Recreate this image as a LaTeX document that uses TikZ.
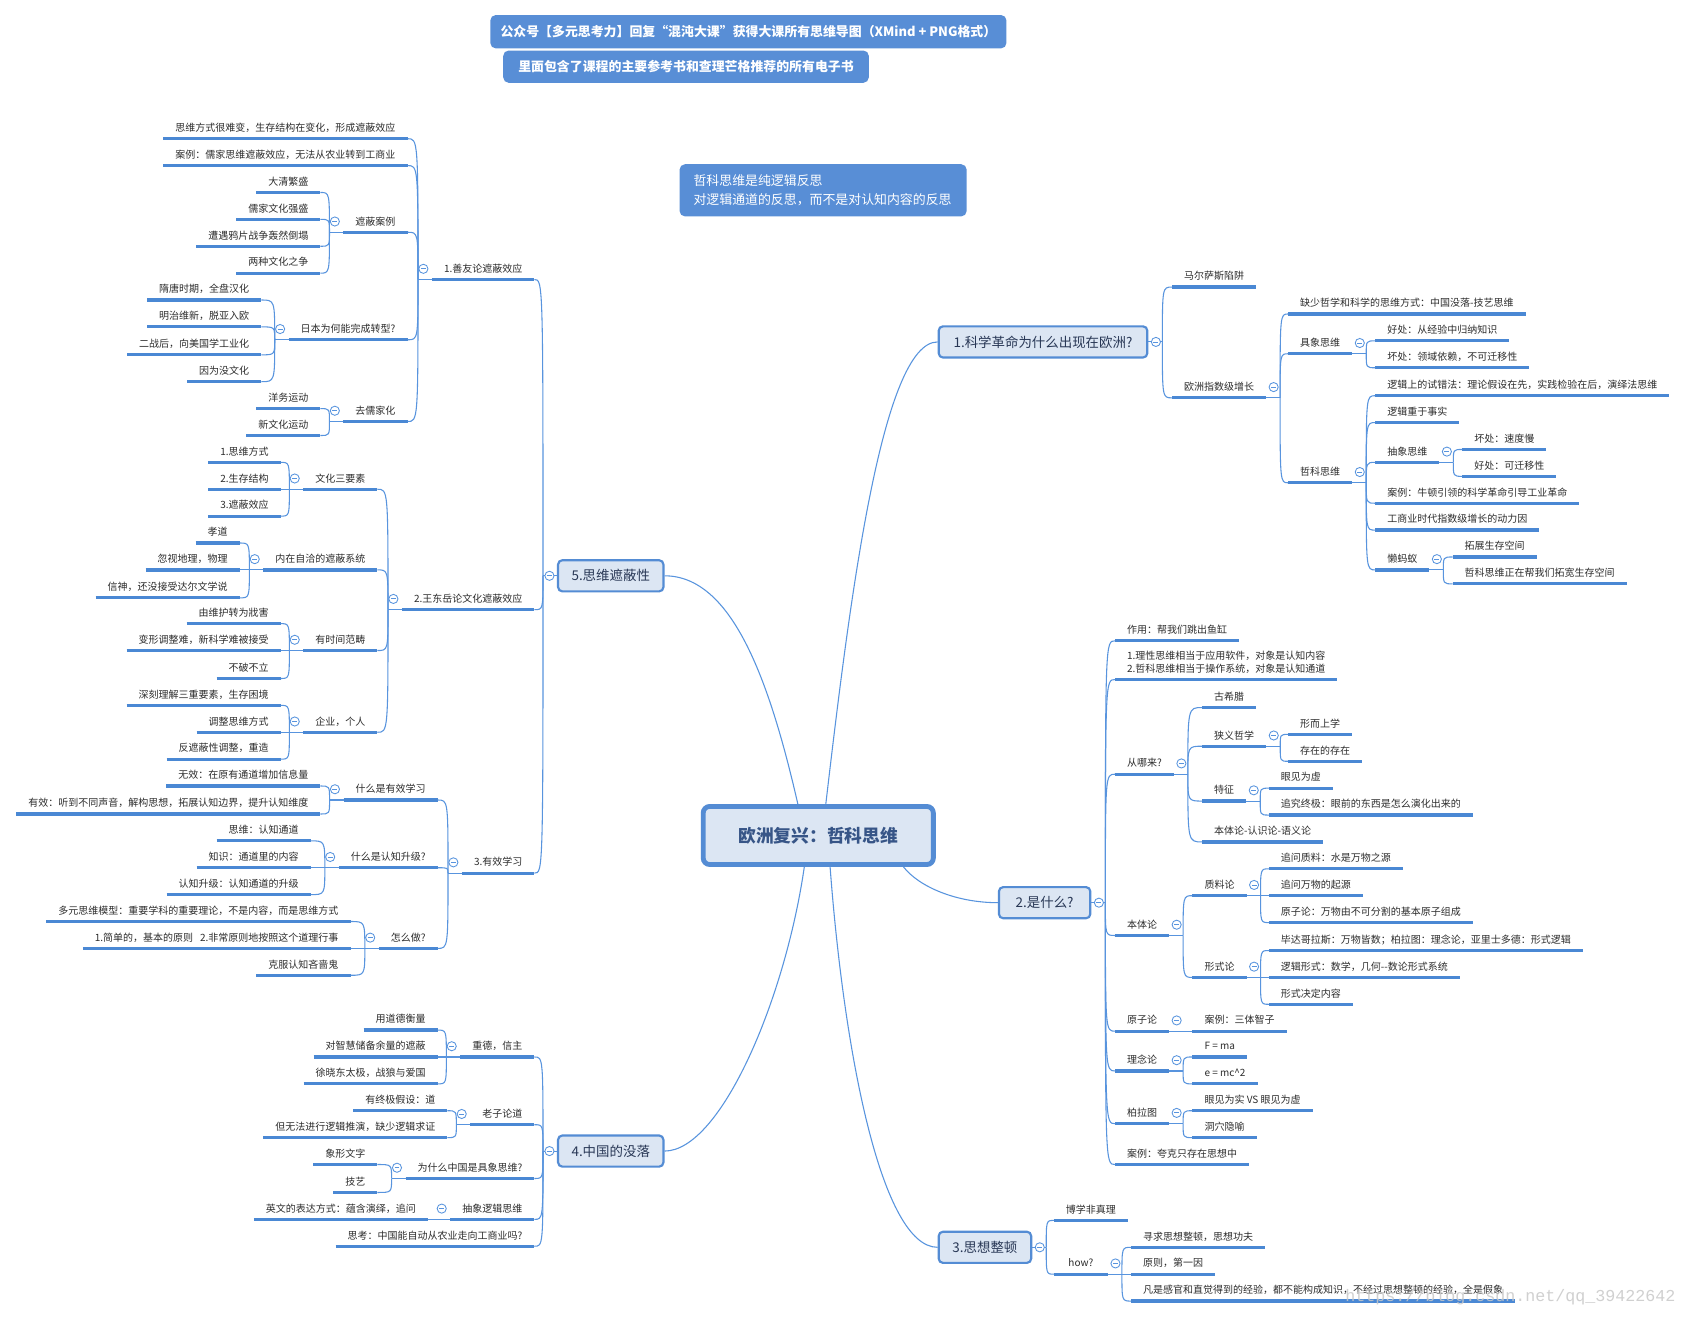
\documentclass[tikz,border=0pt]{standalone}
\usepackage{fontspec}
\setmainfont{Noto Sans CJK SC}
\newfontfamily\wmfont{Liberation Mono}
\usetikzlibrary{calc}
\definecolor{ulc}{RGB}{74,136,212}
\definecolor{cnc}{RGB}{88,148,222}
\definecolor{boxf}{RGB}{220,230,243}
\definecolor{boxc}{RGB}{84,140,212}
\definecolor{bannc}{RGB}{88,142,214}
\definecolor{lblc}{RGB}{45,45,45}
\definecolor{topc}{RGB}{40,55,85}
\definecolor{cenc}{RGB}{55,85,135}
\definecolor{wmc}{RGB}{200,200,200}
\tikzset{
 lbl/.style={font=\fontsize{9.3}{12}\selectfont, text=lblc, inner xsep=11pt, inner ysep=4.5pt, text height=8pt, text depth=2pt},
 uline/.style={draw=ulc, line width=3pt},
 conn/.style={draw=cnc, line width=1pt},
 coll/.style={circle, draw=cnc, fill=white, line width=0.8pt, minimum size=8.5pt, inner sep=0pt,
   path picture={\draw[cnc, line width=0.8pt] ([xshift=-2.3pt]path picture bounding box.center) -- ([xshift=2.3pt]path picture bounding box.center);}},
 topic/.style={draw=boxc, fill=boxf, line width=2pt, rounded corners=4pt, minimum height=29pt, font=\fontsize{12.5}{14}\selectfont, text=topc, inner sep=0pt},
 central/.style={draw=boxc, fill=boxf, line width=4.5pt, rounded corners=6pt, minimum width=214pt, minimum height=54pt, font=\bfseries\fontsize{16.5}{18}\selectfont, text=cenc, inner sep=0pt},
 banner/.style={fill=bannc, rounded corners=5pt, text=white, font=\bfseries\fontsize{12}{14}\selectfont, inner sep=0pt},
}
\newcommand\mmL[5][]{\node[lbl,anchor=south east,#1] (#2) at (#3,#4) {#5};\draw[uline] (#2.south west) -- (#2.south east);}
\newcommand\mmR[5][]{\node[lbl,anchor=south west,#1] (#2) at (#3,#4) {#5};\draw[uline] (#2.south west) -- (#2.south east);}
\newcommand\mmLP[1]{\coordinate (#1j) at ([xshift=-13pt]#1.south west);\draw[conn] (#1.south west) -- (#1j);\node[coll] (#1o) at ([xshift=-8pt,yshift=10pt]#1.south west) {};}
\newcommand\mmRP[1]{\coordinate (#1j) at ([xshift=13pt]#1.south east);\draw[conn] (#1.south east) -- (#1j);\node[coll] (#1o) at ([xshift=7pt,yshift=10pt]#1.south east) {};}
\newcommand\mmLK[2]{\draw[conn] (#1j) .. controls (#1j |- #2.south east) .. (#2.south east);}
\newcommand\mmRK[2]{\draw[conn] (#1j) .. controls (#1j |- #2.south west) .. (#2.south west);}
\begin{document}
\begin{tikzpicture}[x=1pt,y=-1pt]
\fill[white] (0,0) rectangle (1568,1225.75);
\useasboundingbox (0,0) rectangle (1568,1225.75);

% banners
\node[banner, minimum width=480pt, minimum height=31pt] (N1) at (696,29.5) {公众号【多元思考力】回复“混沌大课”获得大课所有思维导图（XMind + PNG格式）};
\node[banner, minimum width=340pt, minimum height=30pt] (N2) at (638,62) {里面包含了课程的主要参考书和查理芒格推荐的所有电子书};
\node[banner, font=\fontsize{12}{17.5}\selectfont, align=left, text width=241pt, minimum width=267pt, minimum height=48.5pt] (N3) at (765.5,177) {哲科思维是纯逻辑反思\\对逻辑通道的反思，而不是对认知内容的反思};

% central and main topics
\node[central] (M) at (761,777) {欧洲复兴：哲科思维};
\node[topic, minimum width=98pt] (T5) at (568,535.5) {5.思维遮蔽性};
\node[topic, minimum width=98pt] (T4) at (568,1070.5) {4.中国的没落};
\node[topic, minimum width=194pt] (T1) at (970,318) {1.科学革命为什么出现在欧洲?};
\node[topic, minimum width=85pt] (T2) at (971.5,839.5) {2.是什么?};
\node[topic, minimum width=86pt] (T3) at (916,1160) {3.思想整顿};

\coordinate (s5) at ([xshift=-19pt]M.north);
\coordinate (s1) at ([xshift=7pt]M.north);
\coordinate (s4) at ([xshift=-13pt]M.south);
\coordinate (s3) at ([xshift=11pt]M.south);
\coordinate (s2) at ([xshift=-30pt]M.south east);
\draw[conn] (s5) .. controls ($(s5)+(-27,-118)$) and ($(T5.east)+(62,0)$) .. (T5.east);
\draw[conn] (s1) .. controls ($(s1)+(22,-188)$) and ($(T1.west)+(-52,0)$) .. (T1.west);
\draw[conn] (s4) .. controls ($(s4)+(-18,124)$) and ($(T4.east)+(52,0)$) .. (T4.east);
\draw[conn] (s3) .. controls ($(s3)+(13,174)$) and ($(T3.west)+(-52,0)$) .. (T3.west);
\draw[conn] (s2) .. controls ($(s2)+(15,19)$) and ($(T2.west)+(-38,0)$) .. (T2.west);

\coordinate (T5j) at ([xshift=-13pt]T5.west);
\coordinate (T4j) at ([xshift=-13pt]T4.west);
\coordinate (T1j) at ([xshift=13pt]T1.east);
\coordinate (T2j) at ([xshift=13pt]T2.east);
\coordinate (T3j) at ([xshift=13pt]T3.east);
\draw[conn] (T5.west) -- (T5j);
\draw[conn] (T4.west) -- (T4j);
\draw[conn] (T1.east) -- (T1j);
\draw[conn] (T2.east) -- (T2j);
\draw[conn] (T3.east) -- (T3j);

% ===== branch 5 =====
\mmL{A}{497}{260}{1.善友论遮蔽效应}\mmLP{A}
\mmL{B}{497}{567}{2.王东岳论文化遮蔽效应}\mmLP{B}
\mmL{C}{497}{812}{3.有效学习}\mmLP{C}
\mmLK{T5}{A}\mmLK{T5}{B}\mmLK{T5}{C}

\mmL{Aa}{379}{129}{思维方式很难变，生存结构在变化，形成遮蔽效应}
\mmL{Ab}{379}{154}{案例：儒家思维遮蔽效应，无法从农业转到工商业}
\mmL{Ac}{379}{216}{遮蔽案例}\mmLP{Ac}
\mmL{Ad}{379}{316}{日本为何能完成转型?}\mmLP{Ad}
\mmL{Ae}{379}{392}{去儒家化}\mmLP{Ae}
\mmLK{A}{Aa}\mmLK{A}{Ab}\mmLK{A}{Ac}\mmLK{A}{Ad}\mmLK{A}{Ae}
\mmL{Aca}{298}{179}{大清繁盛}
\mmL{Acb}{298}{204}{儒家文化强盛}
\mmL{Acc}{298}{229}{遭遇鸦片战争轰然倒塌}
\mmL{Acd}{298}{254}{两种文化之争}
\mmLK{Ac}{Aca}\mmLK{Ac}{Acb}\mmLK{Ac}{Acc}\mmLK{Ac}{Acd}
\mmL{Ada}{243}{279}{隋唐时期，全盘汉化}
\mmL{Adb}{243}{304}{明治维新，脱亚入欧}
\mmL{Adc}{243}{330}{二战后，向美国学工业化}
\mmL{Add}{243}{355}{因为没文化}
\mmLK{Ad}{Ada}\mmLK{Ad}{Adb}\mmLK{Ad}{Adc}\mmLK{Ad}{Add}
\mmL{Aea}{298}{380}{洋务运动}
\mmL{Aeb}{298}{405}{新文化运动}
\mmLK{Ae}{Aea}\mmLK{Ae}{Aeb}

\mmL{Ba}{351}{455}{文化三要素}\mmLP{Ba}
\mmL{Bb}{351}{530}{内在自洽的遮蔽系统}\mmLP{Bb}
\mmL{Bc}{351}{605}{有时间范畴}\mmLP{Bc}
\mmL{Bd}{351}{681}{企业，个人}\mmLP{Bd}
\mmLK{B}{Ba}\mmLK{B}{Bb}\mmLK{B}{Bc}\mmLK{B}{Bd}
\mmL{Baa}{261}{430}{1.思维方式}
\mmL{Bab}{261}{455}{2.生存结构}
\mmL{Bac}{261}{480}{3.遮蔽效应}
\mmLK{Ba}{Baa}\mmLK{Ba}{Bab}\mmLK{Ba}{Bac}
\mmL{Bba}{223}{505}{孝道}
\mmL{Bbb}{223}{530}{忽视地理，物理}
\mmL{Bbc}{223}{556}{信神，还没接受达尔文学说}
\mmLK{Bb}{Bba}\mmLK{Bb}{Bbb}\mmLK{Bb}{Bbc}
\mmL{Bca}{261}{580}{由维护转为戕害}
\mmL{Bcb}{261}{605}{变形调整难，新科学难被接受}
\mmL{Bcc}{261}{631}{不破不立}
\mmLK{Bc}{Bca}\mmLK{Bc}{Bcb}\mmLK{Bc}{Bcc}
\mmL{Bda}{261}{656}{深刻理解三重要素，生存困境}
\mmL{Bdb}{261}{681}{调整思维方式}
\mmL{Bdc}{261}{706}{反遮蔽性调整，重造}
\mmLK{Bd}{Bda}\mmLK{Bd}{Bdb}\mmLK{Bd}{Bdc}

\mmL{Ca}{407}{744}{什么是有效学习}\mmLP{Ca}
\mmL{Cb}{407}{807}{什么是认知升级?}\mmLP{Cb}
\mmL{Cc}{407}{882}{怎么做?}\mmLP{Cc}
\mmLK{C}{Ca}\mmLK{C}{Cb}\mmLK{C}{Cc}
\mmL{Caa}{298}{731}{无效：在原有通道增加信息量}
\mmL{Cab}{298}{757}{有效：听到不同声音，解构思想，拓展认知边界，提升认知维度}
\mmLK{Ca}{Caa}\mmLK{Ca}{Cab}
\mmL{Cba}{289}{782}{思维：认知通道}
\mmL{Cbb}{289}{807}{知识：通道里的内容}
\mmL{Cbc}{289}{832}{认知升级：认知通道的升级}
\mmLK{Cb}{Cba}\mmLK{Cb}{Cbb}\mmLK{Cb}{Cbc}
\mmL{Cca}{326}{857}{多元思维模型：重要学科的重要理论，不是内容，而是思维方式}
\mmL{Ccb}{326}{882}{1.简单的，基本的原则\hspace{0.7em}2.非常原则地按照这个道理行事}
\mmL{Ccc}{326}{907}{克服认知吝啬鬼}
\mmLK{Cc}{Cca}\mmLK{Cc}{Ccb}\mmLK{Cc}{Ccc}

% ===== branch 4 =====
\mmL{D}{497}{983}{重德，信主}\mmLP{D}
\mmL{E}{497}{1046}{老子论道}\mmLP{E}
\mmL{F}{497}{1096}{为什么中国是具象思维?}\mmLP{F}
\mmL{G}{497}{1134}{抽象逻辑思维}\mmLP{G}
\mmL{H}{497}{1159}{思考：中国能自动从农业走向工商业吗?}
\mmLK{T4}{D}\mmLK{T4}{E}\mmLK{T4}{F}\mmLK{T4}{G}\mmLK{T4}{H}
\mmL{Da}{407}{958}{用道德衡量}
\mmL{Db}{407}{983}{对智慧储备余量的遮蔽}
\mmL{Dc}{407}{1008}{徐晓东太极，战狼与爱国}
\mmLK{D}{Da}\mmLK{D}{Db}\mmLK{D}{Dc}
\mmL{Ea}{416}{1033}{有终极假设：道}
\mmL{Eb}{416}{1058}{但无法进行逻辑推演，缺少逻辑求证}
\mmLK{E}{Ea}\mmLK{E}{Eb}
\mmL{Fa}{351}{1083}{象形文字}
\mmL{Fb}{351}{1109}{技艺}
\mmLK{F}{Fa}\mmLK{F}{Fb}
\mmL{Ga}{398}{1134}{英文的表达方式：蕴含演绎，追问}
\mmLK{G}{Ga}

% ===== branch 1 =====
\mmR{P}{1090}{267}{马尔萨斯陷阱}
\mmR{Q}{1090}{370}{欧洲指数级增长}\mmRP{Q}
\mmRK{T1}{P}\mmRK{T1}{Q}
\mmR{Qa}{1198}{292}{缺少哲学和科学的思维方式：中国没落-技艺思维}
\mmR{Qb}{1198}{329}{具象思维}\mmRP{Qb}
\mmR{Qc}{1198}{449}{哲科思维}\mmRP{Qc}
\mmRK{Q}{Qa}\mmRK{Q}{Qb}\mmRK{Q}{Qc}
\mmR{Qba}{1279}{317}{好处：从经验中归纳知识}
\mmR{Qbb}{1279}{342}{坏处：领域依赖，不可迁移性}
\mmRK{Qb}{Qba}\mmRK{Qb}{Qbb}
\mmR{Qca}{1279}{368}{逻辑上的试错法：理论假设在先，实践检验在后，演绎法思维}
\mmR{Qcb}{1279}{393}{逻辑重于事实}
\mmR{Qcc}{1279}{430}{抽象思维}\mmRP{Qcc}
\mmR{Qcd}{1279}{468}{案例：牛顿引领的科学革命引导工业革命}
\mmR{Qce}{1279}{493}{工商业时代指数级增长的动力因}
\mmR{Qcf}{1279}{530}{懒蚂蚁}\mmRP{Qcf}
\mmRK{Qc}{Qca}\mmRK{Qc}{Qcb}\mmRK{Qc}{Qcc}\mmRK{Qc}{Qcd}\mmRK{Qc}{Qce}\mmRK{Qc}{Qcf}
\mmR{Qcca}{1360}{418}{坏处：速度慢}
\mmR{Qccb}{1360}{443}{好处：可迁移性}
\mmRK{Qcc}{Qcca}\mmRK{Qcc}{Qccb}
\mmR{Qcfa}{1351}{518}{拓展生存空间}
\mmR{Qcfb}{1351}{543}{哲科思维正在帮我们拓宽生存空间}
\mmRK{Qcf}{Qcfa}\mmRK{Qcf}{Qcfb}

% ===== branch 2 =====
\mmR{R}{1037}{596}{作用：帮我们跳出鱼缸}
\mmR{S}{1037}{632}{\begin{tabular}[b]{@{}l@{}}1.理性思维相当于应用软件，对象是认知内容\\2.哲科思维相当于操作系统，对象是认知通道\end{tabular}}
\mmR{U}{1037}{720}{从哪来?}\mmRP{U}
\mmR{V}{1037}{870}{本体论}\mmRP{V}
\mmR{W}{1037}{959}{原子论}\mmRP{W}
\mmR{X}{1037}{996}{理念论}\mmRP{X}
\mmR{Y}{1037}{1045}{柏拉图}\mmRP{Y}
\mmR{Z}{1037}{1083}{案例：夸克只存在思想中}
\mmRK{T2}{R}\mmRK{T2}{S}\mmRK{T2}{U}\mmRK{T2}{V}\mmRK{T2}{W}\mmRK{T2}{X}\mmRK{T2}{Y}\mmRK{T2}{Z}
\mmR{Ua}{1118}{658}{古希腊}
\mmR{Ub}{1118}{694}{狭义哲学}\mmRP{Ub}
\mmR{Uc}{1118}{745}{特征}\mmRP{Uc}
\mmR{Ud}{1118}{783}{本体论-认识论-语义论}
\mmRK{U}{Ua}\mmRK{U}{Ub}\mmRK{U}{Uc}\mmRK{U}{Ud}
\mmR{Uba}{1198}{683}{形而上学}
\mmR{Ubb}{1198}{708}{存在的存在}
\mmRK{Ub}{Uba}\mmRK{Ub}{Ubb}
\mmR{Uca}{1180}{733}{眼见为虚}
\mmR{Ucb}{1180}{758}{追究终极：眼前的东西是怎么演化出来的}
\mmRK{Uc}{Uca}\mmRK{Uc}{Ucb}
\mmR{Va}{1109}{833}{质料论}\mmRP{Va}
\mmR{Vb}{1109}{909}{形式论}\mmRP{Vb}
\mmRK{V}{Va}\mmRK{V}{Vb}
\mmR{Vaa}{1180}{808}{追问质料：水是万物之源}
\mmR{Vab}{1180}{833}{追问万物的起源}
\mmR{Vac}{1180}{858}{原子论：万物由不可分割的基本原子组成}
\mmRK{Va}{Vaa}\mmRK{Va}{Vab}\mmRK{Va}{Vac}
\mmR{Vba}{1180}{884}{毕达哥拉斯：万物皆数；柏拉图：理念论，亚里士多德：形式逻辑}
\mmR{Vbb}{1180}{909}{逻辑形式：数学，几何-{}-数论形式系统}
\mmR{Vbc}{1180}{934}{形式决定内容}
\mmRK{Vb}{Vba}\mmRK{Vb}{Vbb}\mmRK{Vb}{Vbc}
\mmR{Wa}{1109}{959}{案例：三体智子}
\mmRK{W}{Wa}
\mmR{Xa}{1109}{983}{F = ma}
\mmR{Xb}{1109}{1008}{e = mc\textasciicircum 2}
\mmRK{X}{Xa}\mmRK{X}{Xb}
\mmR{Ya}{1109}{1033}{眼见为实 VS 眼见为虚}
\mmR{Yb}{1109}{1058}{洞穴隐喻}
\mmRK{Y}{Ya}\mmRK{Y}{Yb}

% ===== branch 3 =====
\mmR{K}{980}{1135}{博学非真理}
\mmR[minimum width=50pt]{L}{980}{1185}{how?}\mmRP{L}
\mmRK{T3}{K}\mmRK{T3}{L}
\mmR{La}{1052}{1160}{寻求思想整顿，思想功夫}
\mmR{Lb}{1052}{1185}{原则，第一因}
\mmR{Lc}{1052}{1210}{凡是感官和直觉得到的经验，都不能构成知识，不经过思想整顿的经验，全是假象}
\mmRK{L}{La}\mmRK{L}{Lb}\mmRK{L}{Lc}

% collapse buttons of main topics
\node[coll] (T5o) at ([xshift=-7pt]T5.west) {};
\node[coll] (T4o) at ([xshift=-7pt]T4.west) {};
\node[coll] (T1o) at ([xshift=7pt]T1.east) {};
\node[coll] (T2o) at ([xshift=7pt]T2.east) {};
\node[coll] (T3o) at ([xshift=7pt]T3.east) {};

% watermark
\node[anchor=west, inner sep=0pt, font=\wmfont\fontsize{15.5}{16}\selectfont, text=wmc, opacity=0.85] (WM) at (1251,1206) {https://blog.csdn.net/qq\_39422642};
\end{tikzpicture}
\end{document}
